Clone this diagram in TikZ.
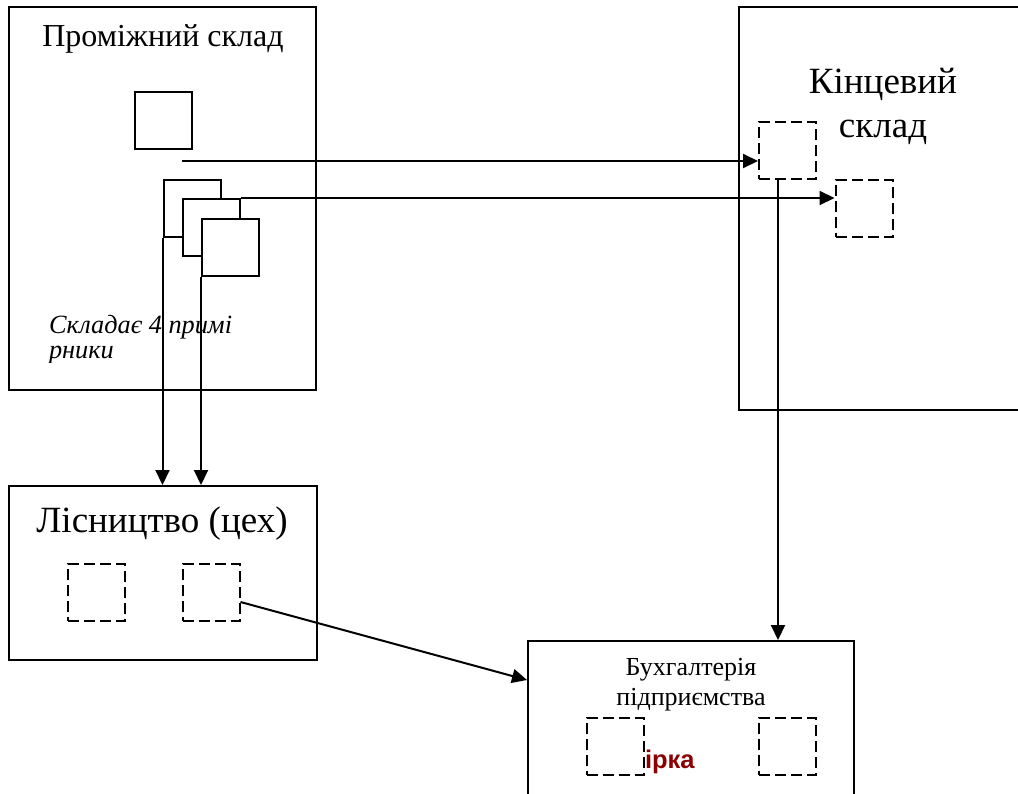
\documentclass[tikz,border=0pt]{standalone}
\usepackage{fontspec}
\setmainfont{Liberation Serif}
\newfontfamily\labelsans{Liberation Sans}
\usetikzlibrary{positioning,calc,arrows.meta}
\definecolor{markred}{RGB}{139,0,0}

\begin{document}
\begin{tikzpicture}[x=1pt, y=-1pt, line width=2pt,
    >={Triangle[length=15pt,width=14pt]},
    zone/.style={draw, inner sep=0pt},
    unit/.style={draw, fill=white, inner sep=0pt, minimum width=57pt, minimum height=57pt},
    slot/.style={unit, dash pattern=on 11pt off 5pt}]
  \useasboundingbox (0,0) rectangle (1018,793);

  % departments
  \node[zone, minimum width=307pt, minimum height=383pt] (prom) at (162.5,198.5) {};
  \node[zone, minimum width=308pt, minimum height=174pt] (lis) at (163,573) {};
  \node[zone, minimum width=290pt, minimum height=403pt] (kin) at (884,208.5) {};
  \node[zone, minimum width=326pt, minimum height=170pt] (buh) at (691,726) {};

  \node[font=\fontsize{32}{38}\selectfont, anchor=base] (promt) at (163,46) {Проміжний склад};
  \node[font=\fontsize{37}{44}\selectfont, anchor=base] (list) at (162,532) {Лісництво (цех)};
  \node[font=\fontsize{37}{44}\selectfont, align=center, anchor=base] (kint) at (883,137) {Кінцевий\\склад};
  \node[font=\fontsize{26}{30}\selectfont, align=center, anchor=base] (buht) at (691,705) {Бухгалтерія\\підприємства};

  \begin{scope}
    \clip (40,300) rectangle (300,362);
    \node[font=\itshape\fontsize{26.3}{25}\selectfont, align=left, anchor=base west, inner sep=0pt] (note) at (48,358) {Складає 4 примі\\рники};
  \end{scope}

  % documents
  \node[unit] (sq0) at (163.5,120) {};
  \node[unit] (sq1) at (192,208.5) {};
  \node[unit] (sq2) at (211,227.5) {};
  \node[unit] (sq3) at (230.5,247) {};

  \node[slot] (kd1) at (787.5,150.5) {};
  \node[slot] (kd2) at (864,208) {};
  \node[slot] (ld1) at (96,592.5) {};
  \node[slot] (ld2) at (211,592.5) {};
  \node[slot] (bd1) at (615,746) {};
  \node[slot] (bd2) at (787.5,746) {};

  \node[font=\labelsans\bfseries\fontsize{25.5}{30}\selectfont, text=markred, anchor=base west, inner sep=0pt] (mark) at (644,768) {ірка};

  % flows
  \coordinate (s0) at (182,161);
  \coordinate (k0) at ([xshift=-9.5pt]kd1.south);
  \draw[->] (s0) -- (s0 -| kd1.west);
  \draw[->] (sq2.north east) -- (sq2.north east -| kd2.west);
  \draw[->] (sq1.south west) -- (sq1.south west |- lis.north);
  \draw[->] (sq3.south west) -- (sq3.south west |- lis.north);
  \draw[->] (k0) -- (k0 |- buh.north);
  \draw[->] ([yshift=-9.5pt]ld2.east) -- ([yshift=46pt]buh.west);
\end{tikzpicture}
\end{document}
